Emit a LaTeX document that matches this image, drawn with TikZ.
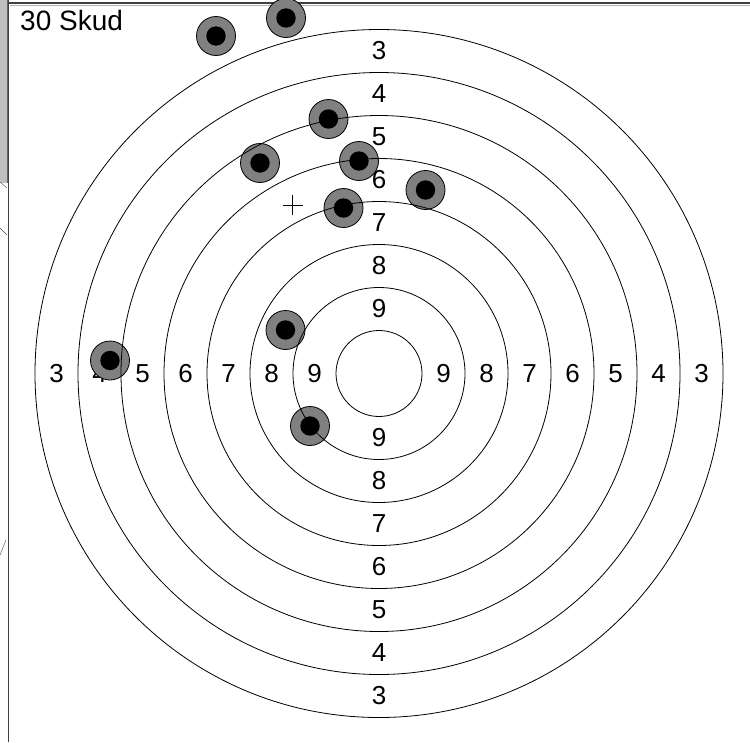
\documentclass[tikz,border=0pt]{standalone}
\usepackage{fontspec}
\setmainfont{Liberation Sans}
\usepackage{tikz}
\usetikzlibrary{positioning,calc}

\begin{document}
\begin{tikzpicture}[
  x=1pt,y=-1pt,
  ring/.style={draw=black,line width=0.8pt},
  num/.style={inner sep=0pt,font=\fontsize{26}{31}\selectfont},
  shot/.style={draw=black,line width=0.8pt,fill=gray},
  hole/.style={fill=black},
  frame/.style={draw=black!75,line width=1.6pt}
]
\useasboundingbox (0,0) rectangle (750,742);
\fill[white] (0,0) rectangle (750,742);

% Window edge
\fill[black!25] (0,0) rectangle (7,183);
\draw[black!60] (7,0) -- (7,183);
\draw[black!70] (0,182) -- (7,188);
\draw[black!70] (0,228) -- (7,235);
\draw[black!70] (0,555) -- (6,540);
\draw[frame] (8.5,0) -- (8.5,742);
\draw[frame] (8.5,3) -- (750,3);
\draw[black!30,line width=1pt] (9.5,5) -- (750,5);

% Title
\node[inner sep=0pt,anchor=base west,font=\fontsize{28}{34}\selectfont] (title) at (20,30) {30 Skud};

% Centre
\coordinate (c) at (379,373.5);

% Ring numbers
\foreach \n [evaluate=\n as \r using (10-\n+0.5)*43] in {3,...,9} {
  \node[num] (top\n) at ($(c)+(0,-\r)$) {\n};
  \node[num] (bot\n) at ($(c)+(0,\r)$) {\n};
  \node[num] (lft\n) at ($(c)+(-\r,0)$) {\n};
  \node[num] (rgt\n) at ($(c)+(\r,0)$) {\n};
}

% Shots
\foreach \sx/\sy [count=\i] in {216/36, 286/18, 328.5/119, 260/163, 359/161,
                                425.5/190, 343.5/208, 110/360.5, 285.5/330, 310/426} {
  \filldraw[shot] (\sx,\sy) circle (19.5);
  \fill[hole] (\sx,\sy) circle (9.7);
  \coordinate (s\i) at (\sx,\sy);
}

% Rings
\foreach \k in {1,...,8} {
  \draw[ring] (c) circle ({43*\k});
}

% Aim mark
\coordinate (aim) at (292.5,205);
\draw[line width=0.7pt] ($(aim)+(-10,0)$) -- ($(aim)+(10,0)$);
\draw[line width=0.7pt] ($(aim)+(0,-10)$) -- ($(aim)+(0,10)$);

\end{tikzpicture}
\end{document}
